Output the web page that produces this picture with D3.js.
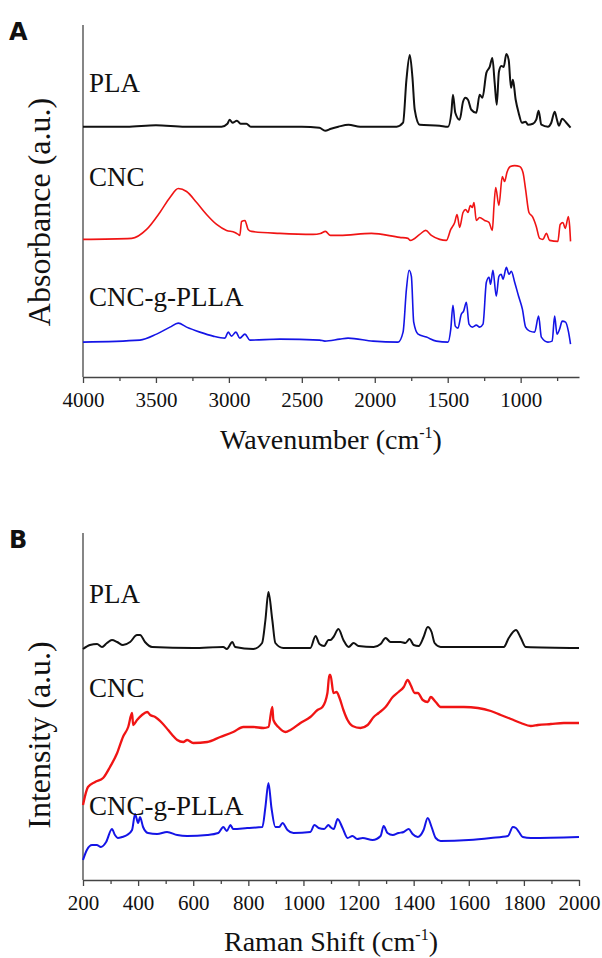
<!DOCTYPE html>
<html>
<head>
<meta charset="utf-8">
<script src="https://cdn.jsdelivr.net/npm/d3@7"></script>
<style>
  body { margin: 0; background: #fff; }
  text { font-family: "Liberation Serif", "Times New Roman", serif; fill: #111; }
</style>
</head>
<body>
<script>
// FTIR spectra, [wavenumber, absorbance a.u. incl. stacking offset]
const ftirPLA = [[4000,251],[3700,251],[3500,252.5],[3300,251],[3050,251],[3010,254],[2995,258],[2975,255],[2945,257],[2920,254],[2880,254],[2850,251],[2500,251],[2380,250],[2340,247],[2300,249],[2250,251],[2180,253],[2100,251],[1850,251],[1806,255],[1783,298],[1760,323],[1742,301],[1726,268],[1692,253],[1555,252],[1498,251],[1475,265],[1464,283],[1448,265],[1418,258],[1395,276],[1379,280],[1361,278],[1338,268],[1304,265],[1281,283],[1262,280],[1235,305],[1212,311],[1194,320],[1178,295],[1164,273],[1149,306],[1133,312],[1116,311],[1098,324],[1082,318],[1066,290],[1053,298],[1034,278],[1014,265],[991,255],[966,256],[950,253],[916,254],[893,258],[877,267],[858,253],[813,251],[790,255],[767,266],[751,258],[738,252],[715,259],[687,255],[658,250]];
const ftirCNC = [[4000,138],[3666,139],[3564,148],[3473,165],[3404,180],[3347,189],[3290,186],[3221,175],[3153,163],[3084,153],[3016,147],[2959,145],[2936,143],[2925,142],[2913,156],[2890,157],[2868,148],[2845,146],[2651,144],[2423,143],[2372,144],[2338,146],[2304,142],[2240,142],[2023,144],[1829,140],[1772,139],[1756,137],[1692,143],[1651,147],[1612,142],[1555,138],[1509,137],[1479,148],[1452,155],[1436,163],[1418,150],[1395,165],[1377,168],[1361,165],[1345,172],[1331,170],[1320,175],[1304,157],[1281,160],[1247,157],[1217,155],[1194,147],[1183,171],[1171,190],[1149,172],[1126,201],[1110,196],[1094,205],[1071,211],[1041,212],[1007,211],[984,205],[966,188],[943,165],[920,161],[893,151],[870,139],[847,138],[824,144],[801,137],[745,136],[729,153],[710,155],[694,149],[673,161],[664,151],[658,136]];
const ftirGraft = [[4000,35],[3610,37],[3496,43],[3404,50],[3347,54],[3290,50],[3199,45],[3108,41],[3027,39],[3005,45],[2982,41],[2952,45],[2925,39],[2890,43],[2856,37],[2651,38],[2377,37],[2342,36],[2240,38],[2183,39],[2012,36],[1840,35],[1806,45],[1783,88],[1765,107],[1749,101],[1733,55],[1703,43],[1646,40],[1578,36],[1498,35],[1479,48],[1464,72],[1448,51],[1430,49],[1407,63],[1391,66],[1372,75],[1354,53],[1331,50],[1304,52],[1281,50],[1258,53],[1235,95],[1217,100],[1206,93],[1190,107],[1167,81],[1149,101],[1133,103],[1121,98],[1098,110],[1080,103],[1064,106],[1041,95],[1014,81],[988,68],[966,50],[938,46],[904,45],[877,61],[858,40],[813,35],[784,36],[767,61],[751,43],[733,48],[715,56],[692,55],[673,46],[658,33]];

// Raman spectra, [shift, intensity a.u. incl. stacking offset]
const ramanPLA = [[200,231],[225,235],[251,236],[269,233],[287,237],[305,240],[324,238],[345,235],[371,238],[396,245],[407,245],[425,238],[451,233],[600,232],[709,233],[722,231],[742,238],[752,233],[818,231],[850,237],[862,260],[873,288],[887,260],[898,237],[927,232],[1025,232],[1044,244],[1058,236],[1075,234],[1091,240],[1098,240],[1109,243],[1127,251],[1145,240],[1164,233],[1182,237],[1200,234],[1255,233],[1280,236],[1298,242],[1316,238],[1353,238],[1370,237],[1385,241],[1400,235],[1418,234],[1436,243],[1451,253],[1465,248],[1476,237],[1498,233],[1727,233],[1745,242],[1771,250],[1789,242],[1807,233],[2000,232]];
const ramanCNC = [[200,75],[218,93],[244,98],[273,102],[298,113],[324,127],[345,143],[364,153],[378,167],[382,155],[396,160],[414,165],[433,168],[444,165],[462,163],[487,157],[509,150],[524,145],[542,140],[564,138],[578,140],[600,137],[651,138],[698,143],[745,148],[782,153],[818,153],[855,152],[873,153],[887,173],[891,160],[909,153],[935,148],[953,150],[989,157],[1025,163],[1051,170],[1069,173],[1087,187],[1094,205],[1098,205],[1109,187],[1120,188],[1131,182],[1145,170],[1160,160],[1178,154],[1207,152],[1233,155],[1255,163],[1273,167],[1298,173],[1324,183],[1345,188],[1364,193],[1378,200],[1389,195],[1404,187],[1415,187],[1433,180],[1451,178],[1462,183],[1480,178],[1498,173],[1535,173],[1582,173],[1633,172],[1680,169],[1716,165],[1753,161],[1789,157],[1825,154],[1851,155],[1898,156],[1945,157],[2000,157]];
const ramanGraft = [[200,20],[214,30],[233,35],[250,35],[265,33],[284,38],[305,51],[316,45],[327,42],[342,43],[360,45],[378,50],[389,66],[400,57],[407,63],[418,53],[436,47],[469,46],[505,48],[542,45],[578,44],[651,45],[691,47],[709,53],[722,49],[735,55],[745,51],[796,52],[851,53],[862,73],[873,97],[884,72],[898,53],[912,53],[924,57],[942,50],[964,47],[1025,48],[1040,55],[1055,52],[1075,51],[1091,55],[1098,53],[1110,51],[1124,61],[1142,52],[1160,42],[1178,44],[1195,41],[1215,42],[1251,40],[1280,44],[1291,54],[1305,47],[1324,45],[1345,47],[1364,48],[1382,51],[1396,46],[1415,43],[1436,50],[1451,62],[1465,53],[1480,42],[1498,39],[1600,40],[1680,42],[1742,44],[1760,53],[1771,52],[1782,48],[1796,43],[1825,42],[2000,43]];

const ftirTicks = [4000, 3500, 3000, 2500, 2000, 1500, 1000];
const ftirMinor = [3750, 3250, 2750, 2250, 1750, 1250, 750];
const ramanTicks = [200, 400, 600, 800, 1000, 1200, 1400, 1600, 1800, 2000];
const ramanMinor = [300, 500, 700, 900, 1100, 1300, 1500, 1700, 1900];
const seriesNames = ["PLA", "CNC", "CNC-g-PLLA"];
const seriesColors = ["#111111", "#f01414", "#1414e6"];

const W = 602, H = 958;
const svg = d3.select("body").append("svg")
    .attr("width", W).attr("height", H)
    .attr("xmlns", "http://www.w3.org/2000/svg");
svg.append("rect").attr("width", W).attr("height", H).attr("fill", "#fff");

function panel(cfg) {
    const x = d3.scaleLinear().domain(cfg.xDomain).range([83, 579]);
    const y = d3.scaleLinear().domain([0, cfg.yMax]).range([cfg.bottom, cfg.top]);
    const g = svg.append("g");

    // y axis: plain line, no ticks
    g.append("line")
        .attr("x1", x.range()[0]).attr("x2", x.range()[0])
        .attr("y1", y.range()[1]).attr("y2", y.range()[0])
        .attr("stroke", "#444").attr("stroke-width", 1.3);

    const minor = g.append("g").attr("transform", "translate(0," + cfg.bottom + ")")
        .call(d3.axisBottom(x).tickValues(cfg.minor).tickSize(4).tickFormat(""));
    minor.select(".domain").remove();
    minor.selectAll("line").attr("stroke", "#444").attr("stroke-width", 1.3);

    const major = g.append("g").attr("transform", "translate(0," + cfg.bottom + ")")
        .attr("font-family", "Liberation Serif, serif")
        .call(d3.axisBottom(x).tickValues(cfg.ticks).tickSize(6).tickSizeOuter(0)
            .tickPadding(9).tickFormat(d3.format("d")));
    major.attr("font-family", "Liberation Serif, serif").attr("font-size", null);
    major.select(".domain").attr("stroke", "#444").attr("stroke-width", 1.3);
    major.selectAll("line").attr("stroke", "#444").attr("stroke-width", 1.3);
    major.selectAll("text")
        .style("font-family", "'Liberation Serif', serif").style("font-size", "21px").attr("fill", "#111");

    const line = d3.line()
        .x(d => x(d[0])).y(d => y(d[1]))
        .curve(d3.curveMonotoneX);
    cfg.series.forEach((s, i) => {
        g.append("path").datum(s)
            .attr("fill", "none")
            .attr("stroke", seriesColors[i])
            .attr("stroke-width", cfg.widths[i])
            .attr("stroke-linejoin", "round")
            .attr("d", line);
        g.append("text")
            .attr("x", 89).attr("y", cfg.labelY[i])
            .style("font-size", "27px")
            .text(seriesNames[i]);
    });

    // x title with superscript
    const t = g.append("text")
        .attr("x", 331).attr("y", cfg.titleY)
        .attr("text-anchor", "middle")
        .style("font-size", "28px");
    t.append("tspan").text(cfg.xTitle + " (cm");
    t.append("tspan").attr("dy", -11).style("font-size", "16px").text("-1");
    t.append("tspan").attr("dy", 11).text(")");

    g.append("text")
        .attr("transform", "translate(" + cfg.yTitleX + "," + cfg.yTitleY + ") rotate(-90)")
        .attr("text-anchor", "middle")
        .style("font-size", "32px")
        .text(cfg.yTitle);

    g.append("text")
        .attr("x", 9).attr("y", cfg.top + 15)
        .style("font-family", "DejaVu Sans").style("font-weight", "bold").style("font-size", "24px")
        .text(cfg.letter);
}

panel({
    xDomain: [4000, 600], yMax: 353, top: 25, bottom: 377,
    ticks: ftirTicks, minor: ftirMinor,
    series: [ftirPLA, ftirCNC, ftirGraft], widths: [2, 1.6, 1.6],
    labelY: [92, 186, 306],
    xTitle: "Wavenumber", yTitle: "Absorbance (a.u.)", titleY: 449, yTitleX: 50, yTitleY: 212,
    letter: "A"
});

panel({
    xDomain: [200, 2000], yMax: 347, top: 533, bottom: 880,
    ticks: ramanTicks, minor: ramanMinor,
    series: [ramanPLA, ramanCNC, ramanGraft], widths: [2, 2.3, 2],
    labelY: [603, 697, 815],
    xTitle: "Raman Shift", yTitle: "Intensity (a.u.)", titleY: 951, yTitleX: 50, yTitleY: 735,
    letter: "B"
});
</script>
</body>
</html>
